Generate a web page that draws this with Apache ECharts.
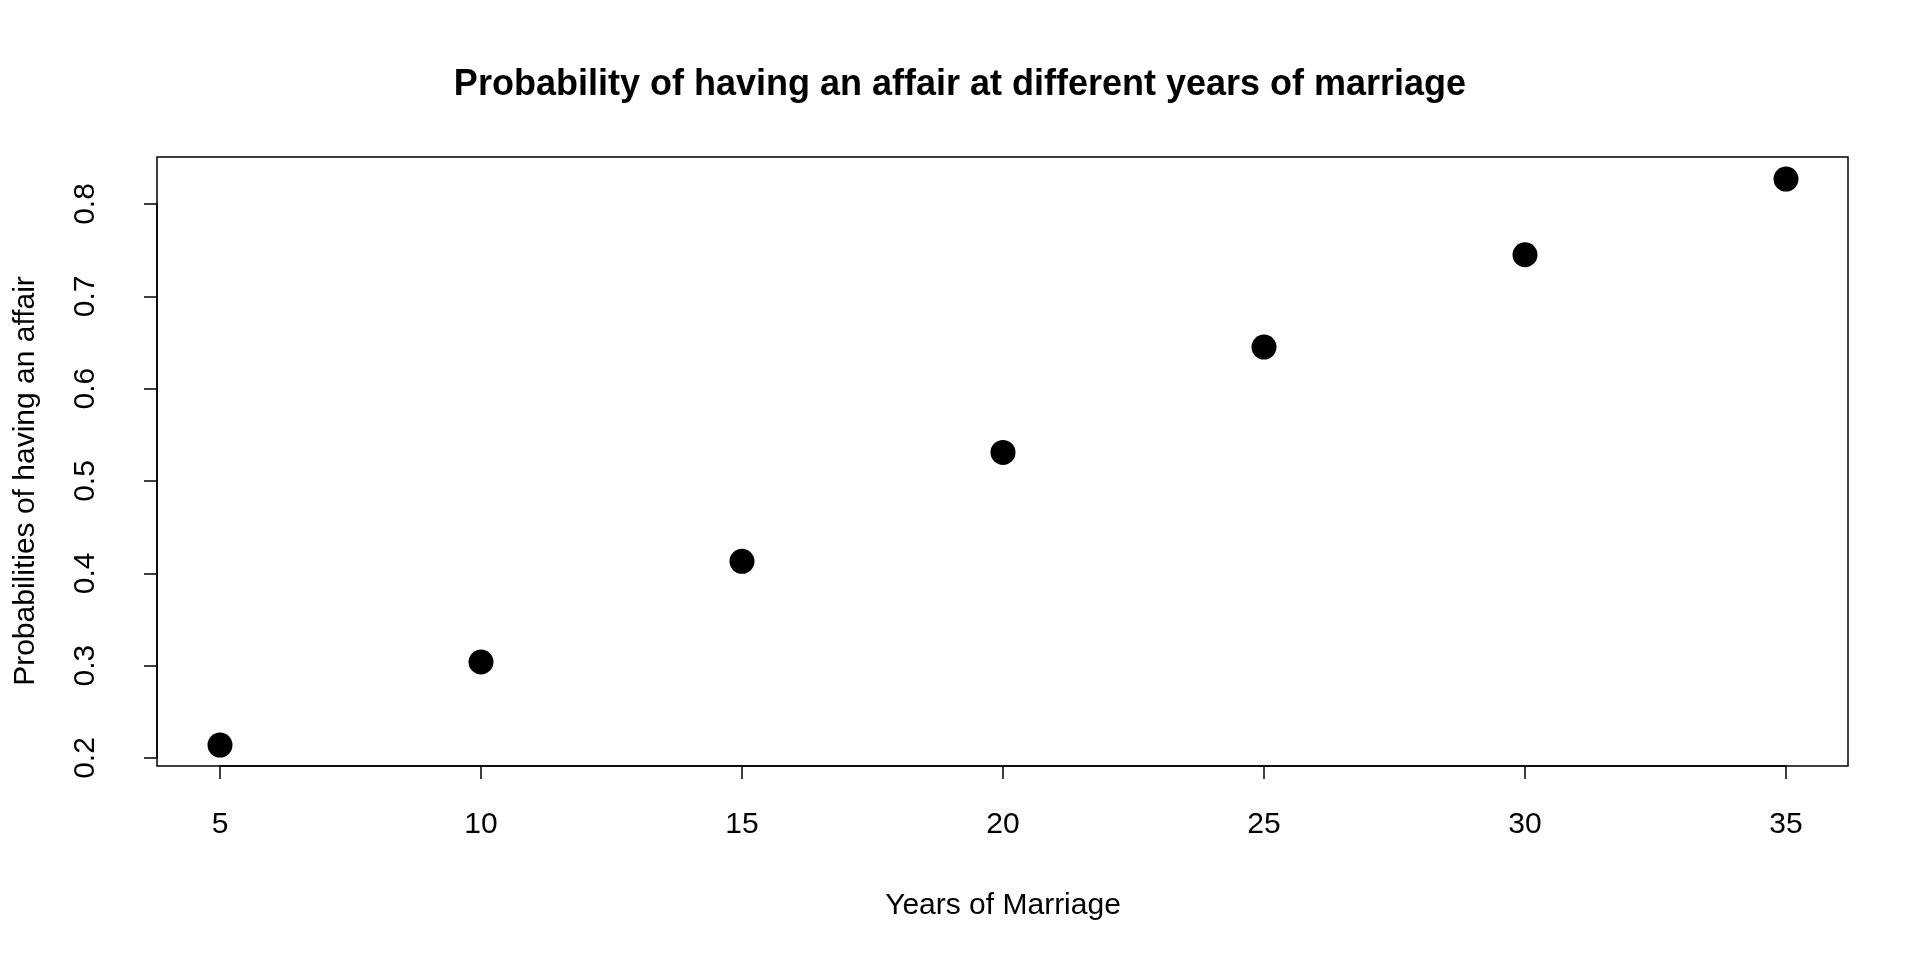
<!DOCTYPE html>
<html>
<head>
<meta charset="utf-8">
<script src="https://cdn.jsdelivr.net/npm/echarts@6/dist/echarts.min.js"></script>
<style>html,body{margin:0;padding:0;background:#fff}#chart{width:1920px;height:960px}</style>
</head>
<body>
<div id="chart"></div>
<script>
var years = [5, 10, 15, 20, 25, 30, 35];
var probs = [0.214, 0.304, 0.413, 0.531, 0.645, 0.745, 0.827];

var chart = echarts.init(document.getElementById('chart'));
var font = 'Liberation Sans, Arial, sans-serif';
var option = {
  backgroundColor: '#fff',
  animation: false,
  title: {
    text: 'Probability of having an affair at different years of marriage',
    left: 'center', top: 62,
    textStyle: {fontFamily: font, fontSize: 36, fontWeight: 'bold', color: '#000'}
  },
  grid: [
    {left: 157, right: 72, top: 157, bottom: 194, show: true, borderColor: '#000', borderWidth: 1.5, backgroundColor: 'transparent'},
    {left: 220, right: 134, top: 204, bottom: 202}
  ],
  xAxis: [
    {gridIndex: 0, type: 'value', show: false, min: 0, max: 1},
    {gridIndex: 1, type: 'value', min: 5, max: 35, interval: 5, offset: 8,
     name: 'Years of Marriage', nameLocation: 'middle', nameGap: 125,
     nameTextStyle: {fontFamily: font, fontSize: 30, color: '#000'},
     axisLine: {show: true, onZero: false, lineStyle: {color: '#000', width: 1.5}},
     axisTick: {show: true, length: 13, lineStyle: {color: '#000', width: 1.5}},
     axisLabel: {fontFamily: font, fontSize: 30, color: '#000', margin: 44},
     splitLine: {show: false}}
  ],
  yAxis: [
    {gridIndex: 0, type: 'value', show: false, min: 0, max: 1},
    {gridIndex: 1, type: 'value', min: 0.2, max: 0.8, interval: 0.1, offset: 63,
     name: 'Probabilities of having an affair', nameLocation: 'middle', nameGap: 116,
     nameTextStyle: {fontFamily: font, fontSize: 30, color: '#000'},
     axisLine: {show: true, onZero: false, lineStyle: {color: '#000', width: 1.5}},
     axisTick: {show: true, length: 13, lineStyle: {color: '#000', width: 1.5}},
     axisLabel: {fontFamily: font, fontSize: 30, color: '#000', rotate: 90, margin: 56,
       formatter: function (v) { return v.toFixed(1); }},
     splitLine: {show: false}}
  ],
  series: [{
    type: 'scatter', xAxisIndex: 1, yAxisIndex: 1, clip: false,
    data: years.map(function (y, i) { return [y, probs[i]]; }),
    symbolSize: 25,
    itemStyle: {color: '#000', opacity: 1}
  }]
};
chart.setOption(option);
</script>
</body>
</html>
